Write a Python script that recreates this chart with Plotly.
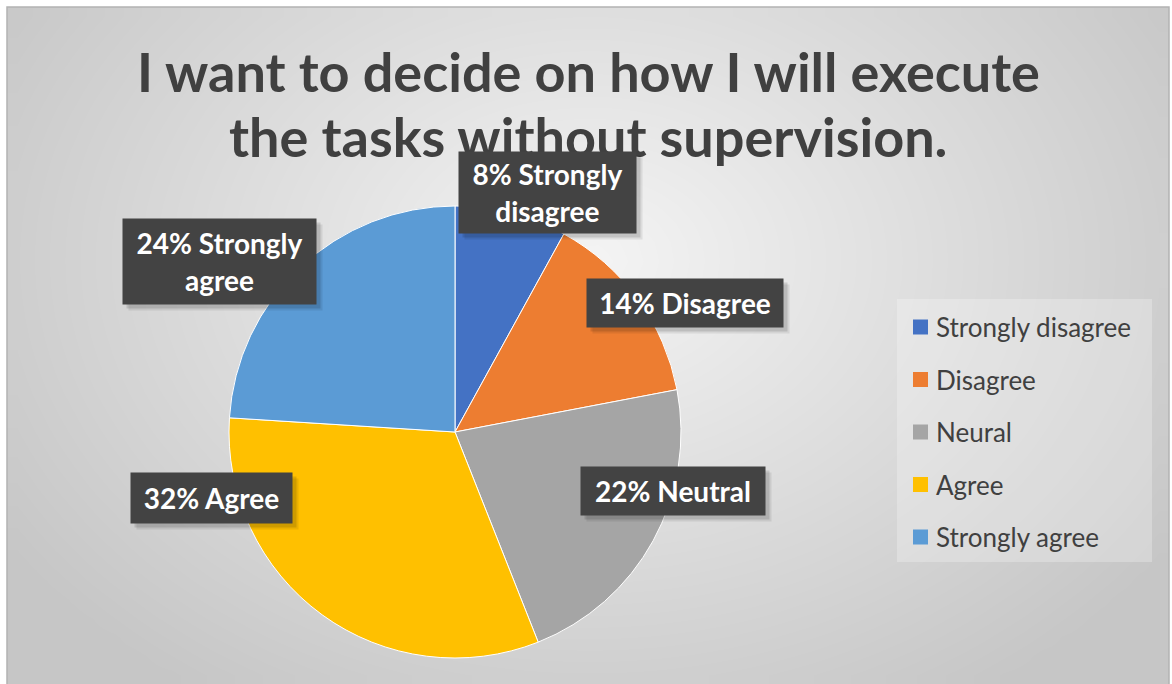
import numpy as np
import plotly.graph_objects as go

# Survey responses
legend_names = ["Strongly disagree", "Disagree", "Neural", "Agree", "Strongly agree"]
callout_names = ["Strongly<br>disagree", "Disagree", "Neutral", "Agree", "Strongly<br>agree"]
values = [8, 14, 22, 32, 24]
colors = ["#4472C4", "#ED7D31", "#A5A5A5", "#FFC000", "#5B9BD5"]

title_lines = ["I want to decide on how I will execute", "the tasks without supervision."]

W, H = 1172, 684
FONT = "Lato"

fig = go.Figure()

# Radial grey background inside the frame
x0f, x1f, y0f, y1f = 7, 1169, 7, 684
nx, ny = 60, 36
dx = (x1f - x0f) / nx
dy = (y1f - y0f) / ny
gx = x0f + dx / 2 + np.arange(nx) * dx
gy = y0f + dy / 2 + np.arange(ny) * dy
XX, YY = np.meshgrid(gx, gy)
rr = np.sqrt(((XX - 590) / 700) ** 2 + ((YY - 260) / 520) ** 2)
zz = 244 - 46 * np.clip(rr, 0, 1)
fig.add_trace(go.Heatmap(
    x=gx, y=gy, z=zz, zmin=0, zmax=255, zsmooth="best",
    colorscale=[[0, "rgb(0,0,0)"], [1, "rgb(255,255,255)"]],
    showscale=False, hoverinfo="skip",
))

# Pie
cx, cy, R = 455, 432, 226
fig.add_trace(go.Pie(
    labels=legend_names, values=values, sort=False, direction="clockwise", rotation=0,
    marker=dict(colors=colors, line=dict(color="white", width=1)),
    textinfo="none", hoverinfo="label+percent", showlegend=False,
    domain=dict(x=[(cx - R) / W, (cx + R) / W], y=[(H - cy - R) / H, (H - cy + R) / H]),
))

shapes = []
annotations = []

# Frame border
shapes.append(dict(type="rect", xref="x", yref="y", x0=x0f, y0=y0f, x1=x1f, y1=y1f + 10,
                   line=dict(color="#b3b3b3", width=1.5), fillcolor="rgba(0,0,0,0)", layer="above"))

# Title
title_y = [71, 136]
for line, ty in zip(title_lines, title_y):
    annotations.append(dict(text=f"<b>{line}</b>", x=588, y=ty, xref="x", yref="y",
                            xanchor="center", yanchor="middle", showarrow=False,
                            font=dict(family=FONT, size=54, color="#404040")))

# Callout boxes: (x0, y0, x1, y1)
boxes = [(459, 152, 636, 233), (587, 279, 783, 327), (581, 467, 765, 515),
         (131, 473, 292, 523), (123, 219, 316, 304)]
for (bx0, by0, bx1, by1), name, v in zip(boxes, callout_names, values):
    bw, bh = bx1 - bx0, by1 - by0
    # soft shadow
    for off, a in [(6, 0.08), (4, 0.12)]:
        annotations.append(dict(text="", x=(bx0 + bx1) / 2 + off, y=(by0 + by1) / 2 + off,
                                xref="x", yref="y", xanchor="center", yanchor="middle",
                                showarrow=False, width=bw, height=bh, borderpad=0,
                                bgcolor=f"rgba(0,0,0,{a})"))
    annotations.append(dict(text=f"<b>{v}% {name}</b>", x=(bx0 + bx1) / 2, y=(by0 + by1) / 2,
                            xref="x", yref="y", xanchor="center", yanchor="middle",
                            showarrow=False, width=bw, height=bh, borderpad=0, align="center",
                            valign="middle", bgcolor="#434343",
                            font=dict(family=FONT, size=28, color="white")))

# Legend
shapes.append(dict(type="rect", xref="x", yref="y", x0=897, y0=299, x1=1152, y1=562,
                   line=dict(width=0), fillcolor="rgba(255,255,255,0.25)", layer="above"))
leg_y0, leg_step = 327, 52.5
for i, (name, col) in enumerate(zip(legend_names, colors)):
    ly = leg_y0 + i * leg_step
    shapes.append(dict(type="rect", xref="x", yref="y", x0=913, x1=928, y0=ly - 7.5, y1=ly + 7.5,
                       line=dict(width=0), fillcolor=col, layer="above"))
    annotations.append(dict(text=name, x=934, y=ly, xref="x", yref="y",
                            xanchor="left", yanchor="middle", showarrow=False,
                            font=dict(family=FONT, size=26, color="#404040")))

fig.update_layout(
    width=W, height=H, margin=dict(l=0, r=0, t=0, b=0),
    paper_bgcolor="white", plot_bgcolor="white",
    xaxis=dict(range=[0, W], visible=False, fixedrange=True),
    yaxis=dict(range=[H, 0], visible=False, fixedrange=True),
    shapes=shapes, annotations=annotations, showlegend=False,
)

fig.write_html("out.html")
